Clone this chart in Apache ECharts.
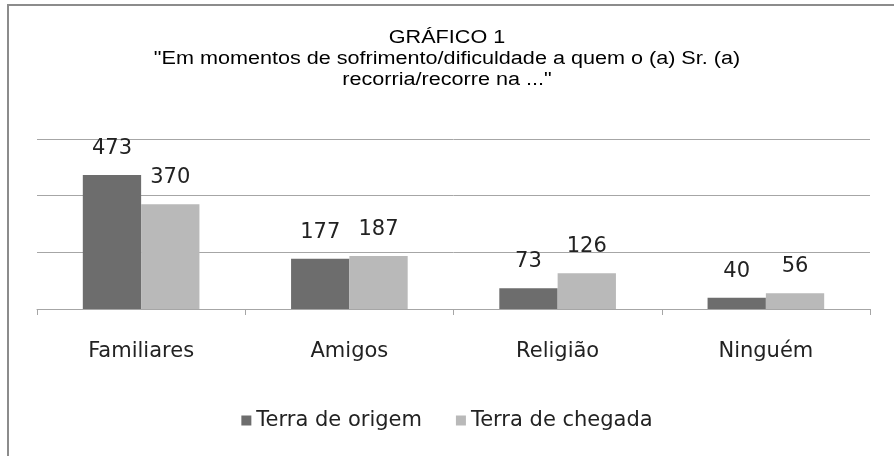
<!DOCTYPE html>
<html>
<head>
<meta charset="utf-8">
<script src="https://cdn.jsdelivr.net/npm/echarts@6/dist/echarts.min.js"></script>
<style>
  html, body { margin: 0; padding: 0; background: #fff; }
  #chart { width: 894px; height: 456px; }
</style>
</head>
<body>
<div id="chart"></div>
<script>
  const categories = ['Familiares', 'Amigos', 'Religião', 'Ninguém'];
  const origem = [473, 177, 73, 40];
  const chegada = [370, 187, 126, 56];
  const seriesNames = ['Terra de origem', 'Terra de chegada'];
  const titleText = 'GRÁFICO 1\n"Em momentos de sofrimento/dificuldade a quem o (a) Sr. (a)\nrecorria/recorre na ..."';

  const chart = echarts.init(document.getElementById('chart'));
  const labelFont = 'DejaVu Sans';
  const labelStyle = {
    show: true,
    position: 'top',
    distance: 16,
    color: '#222',
    fontFamily: labelFont,
    fontSize: 21
  };
  const options = {
    animation: false,
    graphic: [
      {
        type: 'line',
        shape: { x1: 7, y1: 5, x2: 894, y2: 5 },
        style: { stroke: '#8c8c8c', lineWidth: 2 }
      },
      {
        type: 'line',
        shape: { x1: 8, y1: 4, x2: 8, y2: 456 },
        style: { stroke: '#8c8c8c', lineWidth: 2 }
      },
      // title, stretched sideways like the original
      {
        type: 'text',
        x: 447,
        y: 28,
        scaleX: 1.2,
        style: {
          text: titleText,
          align: 'center',
          verticalAlign: 'top',
          fontFamily: 'Liberation Sans',
          fontSize: 18,
          lineHeight: 21,
          fill: '#000'
        }
      }
    ],
    legend: {
      bottom: 20,
      left: 'center',
      itemWidth: 10,
      itemHeight: 10,
      itemGap: 34,
      icon: 'rect',
      textStyle: {
        fontFamily: labelFont,
        fontSize: 21,
        color: '#222'
      },
      data: seriesNames
    },
    grid: {
      left: 37,
      right: 24,
      top: 139,
      bottom: 147
    },
    xAxis: {
      type: 'category',
      data: categories,
      axisLine: { lineStyle: { color: '#a6a6a6', width: 1 } },
      axisTick: { show: true, length: 6, lineStyle: { color: '#a6a6a6' } },
      axisLabel: {
        margin: 32,
        fontFamily: labelFont,
        fontSize: 21,
        color: '#222'
      }
    },
    yAxis: {
      type: 'value',
      min: 0,
      max: 600,
      interval: 200,
      axisLabel: { show: false },
      axisLine: { show: false },
      axisTick: { show: false },
      splitLine: { lineStyle: { color: '#a6a6a6', width: 1 } }
    },
    series: [
      {
        name: seriesNames[0],
        type: 'bar',
        data: origem,
        barGap: '0%',
        barCategoryGap: '44%',
        itemStyle: { color: '#6d6d6d' },
        label: labelStyle
      },
      {
        name: seriesNames[1],
        type: 'bar',
        data: chegada,
        itemStyle: { color: '#b9b9b9' },
        label: labelStyle
      }
    ]
  };
  chart.setOption(options);
</script>
</body>
</html>
